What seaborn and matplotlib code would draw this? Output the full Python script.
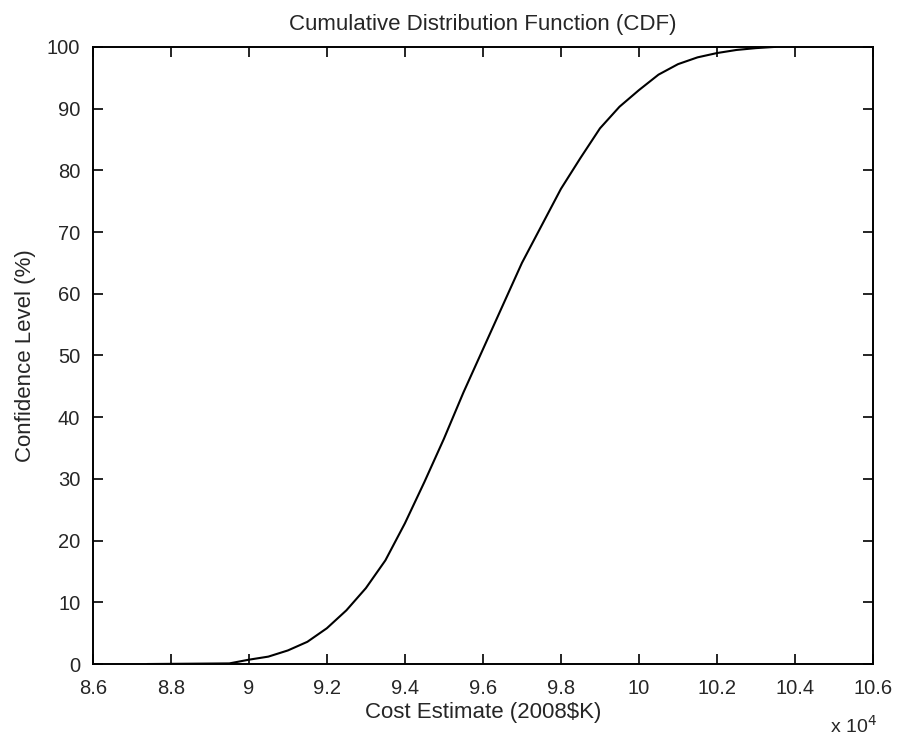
import matplotlib
matplotlib.use("Agg")
import matplotlib.pyplot as plt
import matplotlib.ticker as mticker
import seaborn as sns
import pandas as pd

# CDF points (cost in 2008 $K, confidence level in %)
cost = [87400, 89500, 90000, 90500, 91000, 91500, 92000, 92500, 93000,
        93500, 94000, 94500, 95000, 95500, 96000, 96500, 97000, 97500,
        98000, 98500, 99000, 99500, 100000, 100500, 101000, 101500,
        102000, 102500, 103000, 103500]
confidence = [0.0, 0.1, 0.7, 1.2, 2.2, 3.6, 5.8, 8.7, 12.3,
              16.8, 22.8, 29.5, 36.5, 44.0, 51.0, 58.0, 65.0, 71.0,
              77.0, 82.0, 86.8, 90.3, 93.0, 95.5, 97.2, 98.3,
              99.0, 99.5, 99.8, 100.0]

x_ticks = [86000, 88000, 90000, 92000, 94000, 96000, 98000, 100000,
           102000, 104000, 106000]
y_ticks = list(range(0, 101, 10))

df = pd.DataFrame({"cost": cost, "confidence": confidence})

sns.set_style("white")
plt.rcParams["font.family"] = ["Liberation Sans", "DejaVu Sans"]

fig = plt.figure(figsize=(9.01, 7.44), dpi=100)
ax = fig.add_axes([0.103, 0.1075, 0.866, 0.8295])

sns.lineplot(data=df, x="cost", y="confidence", color="black",
             linewidth=1.5, ax=ax)

ax.set_xlim(86000, 106000)
ax.set_ylim(0, 100)
ax.set_xticks(x_ticks)
ax.set_yticks(y_ticks)
ax.xaxis.set_major_formatter(mticker.FuncFormatter(lambda v, p: f"{v / 1e4:g}"))

ax.tick_params(direction="in", length=7, width=1.2, color="black",
               labelsize=14.5, top=True, right=True, bottom=True, left=True)
ax.tick_params(axis="x", pad=11)
ax.tick_params(axis="y", pad=9)
for s in ax.spines.values():
    s.set_color("black")
    s.set_linewidth(1.4)

ax.set_title("Cumulative Distribution Function (CDF)", fontsize=16, pad=12)
ax.set_xlabel("Cost Estimate (2008\\$K)", fontsize=16, labelpad=3)
ax.set_ylabel("Confidence Level (%)", fontsize=16, labelpad=8)
ax.text(1.005, -0.1, "x 10$^4$", transform=ax.transAxes, ha="right",
        va="center", fontsize=14)

fig.savefig("out.png", dpi=100)
